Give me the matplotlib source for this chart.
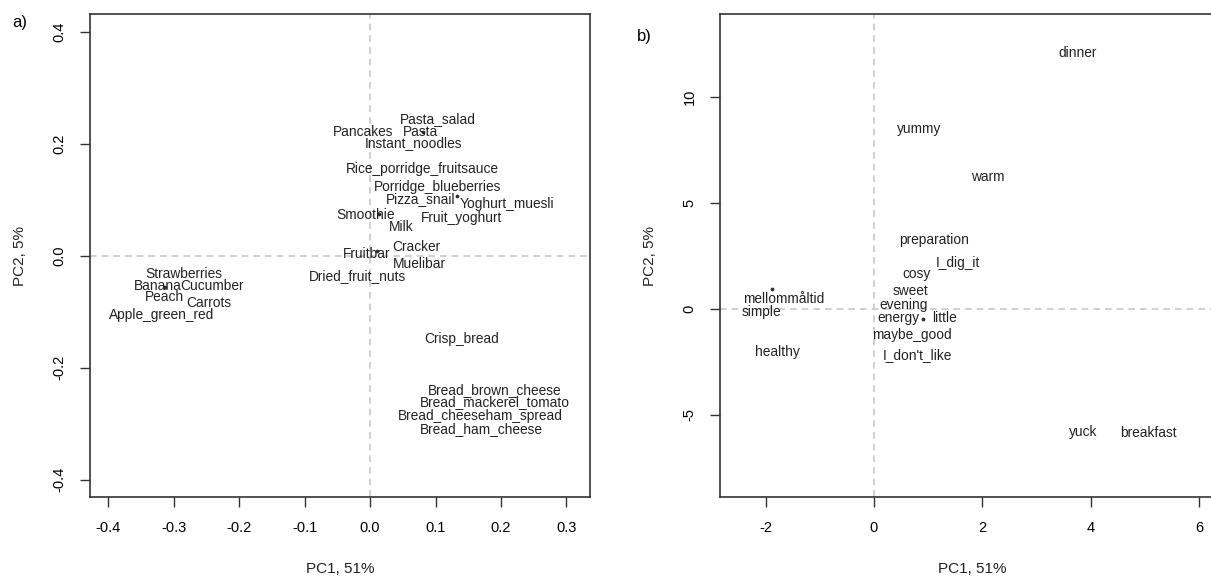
import numpy as np
import matplotlib
matplotlib.use("Agg")
import matplotlib.pyplot as plt

plt.rcParams['font.family'] = ['Liberation Sans', 'DejaVu Sans']

# ------------------------------------------------------------
# a) food items, PCA label positions (PC1, PC2)
# ------------------------------------------------------------
food_labels = [
    "Pasta_salad", "Pancakes", "Pasta", "Instant_noodles",
    "Rice_porridge_fruitsauce", "Porridge_blueberries", "Pizza_snail",
    "Yoghurt_muesli", "Smoothie", "Fruit_yoghurt", "Milk", "Cracker",
    "Fruitbar", "Muelibar", "Dried_fruit_nuts", "Strawberries", "Banana",
    "Cucumber", "Peach", "Carrots", "Apple_green_red", "Crisp_bread",
    "Bread_brown_cheese", "Bread_mackerel_tomato", "Bread_cheeseham_spread",
    "Bread_ham_cheese",
]
food_pc1 = [0.103, -0.010, 0.077, 0.066, 0.080, 0.103, 0.077, 0.209, -0.007,
            0.140, 0.048, 0.070, -0.006, 0.076, -0.019, -0.285, -0.325,
            -0.241, -0.314, -0.247, -0.318, 0.140, 0.191, 0.190, 0.168, 0.170]
food_pc2 = [0.245, 0.221, 0.221, 0.202, 0.155, 0.123, 0.102, 0.093, 0.073,
            0.068, 0.052, 0.016, 0.004, -0.014, -0.036, -0.032, -0.054,
            -0.054, -0.073, -0.084, -0.105, -0.148, -0.239, -0.261, -0.286,
            -0.309]

# points whose labels were pushed away (small dots)
food_dot_pc1 = [0.081, 0.133, 0.014, 0.011, -0.313]
food_dot_pc2 = [0.221, 0.107, 0.075, 0.009, -0.055]

# ------------------------------------------------------------
# b) words, PCA label positions (PC1, PC2)
# ------------------------------------------------------------
word_labels = [
    "dinner", "yummy", "warm", "preparation", "I_dig_it", "cosy", "sweet",
    "mellommåltid", "evening", "simple", "energy", "little", "maybe_good",
    "healthy", "I_don't_like", "yuck", "breakfast",
]
word_pc1 = [3.76, 0.83, 2.10, 1.12, 1.55, 0.79, 0.67, -1.66, 0.54, -2.08,
            0.46, 1.30, 0.70, -1.79, 0.81, 3.87, 5.07]
word_pc2 = [12.08, 8.49, 6.23, 3.25, 2.17, 1.65, 0.85, 0.47, 0.19, -0.14,
            -0.42, -0.42, -1.23, -2.03, -2.17, -5.80, -5.85]

word_dot_pc1 = [-1.88, 0.90]
word_dot_pc2 = [0.94, -0.47]

a_xticks = [-0.4, -0.3, -0.2, -0.1, 0.0, 0.1, 0.2, 0.3]
a_yticks = [-0.4, -0.2, 0.0, 0.2, 0.4]
b_xticks = [-2, 0, 2, 4, 6]
b_yticks = [-5, 0, 5, 10]

fig = plt.figure(figsize=(12.11, 5.79), dpi=100)
ax1 = fig.add_axes([90 / 1211, 82 / 579, 500 / 1211, 483 / 579])
ax2 = fig.add_axes([720 / 1211, 82 / 579, 505 / 1211, 483 / 579])


def style_axes(ax, xticks, yticks, fmt):
    ax.axhline(0, color='#c8c8c8', lw=1.2, ls=(0, (4, 3)), zorder=0)
    ax.axvline(0, color='#c8c8c8', lw=1.2, ls=(0, (4, 3)), zorder=0)
    ax.set_xticks(xticks)
    ax.set_yticks(yticks)
    ax.set_xticklabels([fmt(v) for v in xticks], fontsize=10.5)
    ax.set_yticklabels([fmt(v) for v in yticks], fontsize=10.5,
                       rotation=90, va='center')
    ax.tick_params(direction='out', length=7, width=1, color='#333333',
                   pad=10)
    for s in ax.spines.values():
        s.set_color('#333333')
        s.set_linewidth(1.2)
    ax.set_xlabel("PC1, 51%", fontsize=11, labelpad=20, color='#222222')
    ax.set_ylabel("PC2, 5%", fontsize=11, labelpad=18, color='#222222')


# panel a
ax1.scatter(food_dot_pc1, food_dot_pc2, s=3, color='#333333', zorder=1)
for lab, x, y in zip(food_labels, food_pc1, food_pc2):
    ax1.text(x, y, lab, ha='center', va='center', fontsize=9.9,
             color='#222222')
ax1.set_xlim(-0.428, 0.336)
ax1.set_ylim(-0.431, 0.432)
style_axes(ax1, a_xticks, a_yticks, lambda v: f"{v:.1f}")

# panel b
ax2.scatter(word_dot_pc1, word_dot_pc2, s=3, color='#333333', zorder=1)
for lab, x, y in zip(word_labels, word_pc1, word_pc2):
    ax2.text(x, y, lab, ha='center', va='center', fontsize=9.9,
             color='#222222')
ax2.set_xlim(-2.84, 6.48)
ax2.set_ylim(-8.87, 13.9)
style_axes(ax2, b_xticks, b_yticks, lambda v: f"{v:d}")

fig.text(12 / 1211, 1 - 22 / 579, "a)", fontsize=12, va='center')
fig.text(637 / 1211, 1 - 36 / 579, "b)", fontsize=12, va='center')

fig.savefig("out.png", dpi=100)
